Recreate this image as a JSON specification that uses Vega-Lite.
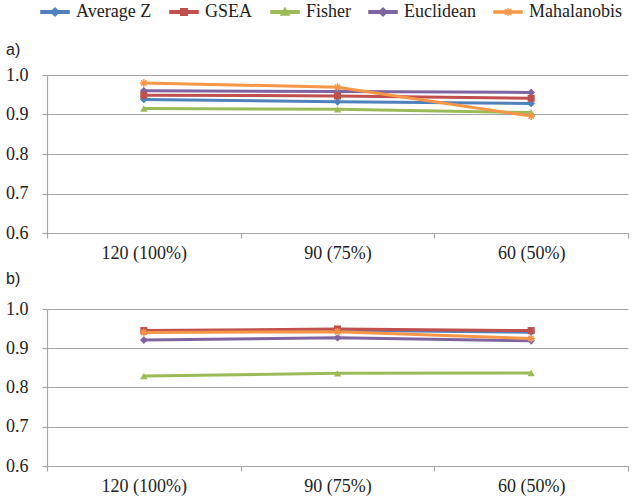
{
  "$schema": "https://vega.github.io/schema/vega-lite/v6.json",
  "padding": {"left": 5, "top": 3, "right": 4, "bottom": 4},
  "background": "white",
  "datasets": {
    "a": [
      {"n": "120 (100%)", "method": "Average Z", "value": 0.938},
      {"n": "90 (75%)", "method": "Average Z", "value": 0.932},
      {"n": "60 (50%)", "method": "Average Z", "value": 0.928},
      {"n": "120 (100%)", "method": "GSEA", "value": 0.949},
      {"n": "90 (75%)", "method": "GSEA", "value": 0.947},
      {"n": "60 (50%)", "method": "GSEA", "value": 0.941},
      {"n": "120 (100%)", "method": "Fisher", "value": 0.915},
      {"n": "90 (75%)", "method": "Fisher", "value": 0.913},
      {"n": "60 (50%)", "method": "Fisher", "value": 0.905},
      {"n": "120 (100%)", "method": "Euclidean", "value": 0.960},
      {"n": "90 (75%)", "method": "Euclidean", "value": 0.958},
      {"n": "60 (50%)", "method": "Euclidean", "value": 0.956},
      {"n": "120 (100%)", "method": "Mahalanobis", "value": 0.980},
      {"n": "90 (75%)", "method": "Mahalanobis", "value": 0.969},
      {"n": "60 (50%)", "method": "Mahalanobis", "value": 0.896}
    ],
    "b": [
      {"n": "120 (100%)", "method": "Average Z", "value": 0.942},
      {"n": "90 (75%)", "method": "Average Z", "value": 0.946},
      {"n": "60 (50%)", "method": "Average Z", "value": 0.941},
      {"n": "120 (100%)", "method": "GSEA", "value": 0.945},
      {"n": "90 (75%)", "method": "GSEA", "value": 0.949},
      {"n": "60 (50%)", "method": "GSEA", "value": 0.945},
      {"n": "120 (100%)", "method": "Fisher", "value": 0.829},
      {"n": "90 (75%)", "method": "Fisher", "value": 0.836},
      {"n": "60 (50%)", "method": "Fisher", "value": 0.837},
      {"n": "120 (100%)", "method": "Euclidean", "value": 0.921},
      {"n": "90 (75%)", "method": "Euclidean", "value": 0.927},
      {"n": "60 (50%)", "method": "Euclidean", "value": 0.919},
      {"n": "120 (100%)", "method": "Mahalanobis", "value": 0.940},
      {"n": "90 (75%)", "method": "Mahalanobis", "value": 0.942},
      {"n": "60 (50%)", "method": "Mahalanobis", "value": 0.925}
    ]
  },
  "config": {
    "view": {"stroke": null},
    "font": "Liberation Serif",
    "axis": {
      "labelFont": "Liberation Serif",
      "labelFontSize": 18,
      "labelColor": "#222222",
      "domainColor": "#a6a6a6",
      "tickColor": "#a6a6a6",
      "gridColor": "#a6a6a6",
      "domainWidth": 1.2,
      "tickWidth": 1.2,
      "gridWidth": 1.2,
      "tickSize": 5,
      "title": null
    },
    "legend": {
      "labelFont": "Liberation Serif",
      "labelFontSize": 18,
      "labelColor": "#222222"
    },
    "title": {"font": "Liberation Sans", "fontSize": 16, "fontWeight": "normal", "color": "#222222", "anchor": "start", "frame": "group"}
  },
  "spacing": 9,
  "vconcat": [
    {
      "width": 581,
      "height": 158,
      "title": {"text": "a)", "dx": -41, "offset": 8},
      "data": {"name": "a"},
      "encoding": {
        "x": {"field": "n", "type": "nominal", "sort": ["120 (100%)", "90 (75%)", "60 (50%)"],
              "scale": {"type": "band", "paddingInner": 0, "paddingOuter": 0},
              "axis": {"labelAngle": 0, "tickBand": "extent", "labelPadding": 6, "grid": false}},
        "y": {"field": "value", "type": "quantitative",
              "scale": {"domain": [0.6, 1.0], "nice": false, "zero": false},
              "axis": {"values": [0.6, 0.7, 0.8, 0.9, 1.0], "format": ".1f", "labelPadding": 14, "grid": true}}
      },
      "layer": [
        {
          "mark": {"type": "line", "strokeWidth": 3},
          "encoding": {
            "color": {"field": "method", "type": "nominal", "title": null,
                      "scale": {"domain": ["Average Z", "GSEA", "Fisher", "Euclidean", "Mahalanobis"],
                                "range": ["#4f81bd", "#c0504d", "#9bbb59", "#8064a2", "#f79646"]},
                      "legend": {"orient": "none", "legendX": -1, "legendY": -72, "direction": "horizontal", "columns": 5,
                                 "symbolSize": 100, "labelOffset": 12, "columnPadding": 15,
                                 "encode": {"symbols": {"update": {
                                   "fill": {"scale": "color", "field": "value"},
                                   "stroke": {"scale": "color", "field": "value"},
                                   "strokeWidth": {"value": 1.5},
                                   "opacity": {"value": 1},
                                   "fillOpacity": {"value": 1},
                                   "shape": {"signal": "datum.value === 'Average Z' || datum.value === 'Euclidean' ? 'M-2.8,-0.25H2.8V0.25H-2.8Z M0,-0.8L0.8,0L0,0.8L-0.8,0Z' : datum.value === 'GSEA' ? 'M-2.8,-0.25H2.8V0.25H-2.8Z M-0.65,-0.65H0.65V0.65H-0.65Z' : datum.value === 'Fisher' ? 'M-2.8,-0.25H2.8V0.25H-2.8Z M0,-0.8L0.8,0.6L-0.8,0.6Z' : 'M-2.8,-0.2H2.8V0.2H-2.8Z M-0.8,0H0.8M0,-0.8V0.8M-0.6,-0.6L0.6,0.6M-0.6,0.6L0.6,-0.6'"}
                                 }}}}}
          }
        },
        {
          "transform": [{"filter": "datum.method === 'Average Z' || datum.method === 'Euclidean'"}],
          "mark": {"type": "point", "filled": true, "shape": "diamond", "size": 60, "opacity": 1},
          "encoding": {
            "fill": {"field": "method", "type": "nominal", "legend": null,
                     "scale": {"domain": ["Average Z", "GSEA", "Fisher", "Euclidean", "Mahalanobis"],
                               "range": ["#4f81bd", "#c0504d", "#9bbb59", "#8064a2", "#f79646"]}}
          }
        },
        {
          "transform": [{"filter": "datum.method === 'GSEA'"}],
          "mark": {"type": "point", "filled": true, "shape": "square", "size": 50, "opacity": 1},
          "encoding": {
            "fill": {"field": "method", "type": "nominal", "legend": null}
          }
        },
        {
          "transform": [{"filter": "datum.method === 'Fisher'"}],
          "mark": {"type": "point", "filled": true, "shape": "triangle-up", "size": 55, "opacity": 1},
          "encoding": {
            "fill": {"field": "method", "type": "nominal", "legend": null}
          }
        },
        {
          "transform": [{"filter": "datum.method === 'Mahalanobis'"}],
          "mark": {"type": "point", "filled": false, "shape": "M-1,0L1,0M0,-1L0,1M-0.7,-0.7L0.7,0.7M-0.7,0.7L0.7,-0.7", "size": 60, "opacity": 1, "strokeWidth": 1.5},
          "encoding": {
            "stroke": {"field": "method", "type": "nominal", "legend": null,
                       "scale": {"domain": ["Average Z", "GSEA", "Fisher", "Euclidean", "Mahalanobis"],
                                 "range": ["#4f81bd", "#c0504d", "#9bbb59", "#8064a2", "#f79646"]}}
          }
        }
      ]
    },
    {
      "width": 581,
      "height": 157,
      "title": {"text": "b)", "dx": -41, "offset": 13},
      "data": {"name": "b"},
      "encoding": {
        "x": {"field": "n", "type": "nominal", "sort": ["120 (100%)", "90 (75%)", "60 (50%)"],
              "scale": {"type": "band", "paddingInner": 0, "paddingOuter": 0},
              "axis": {"labelAngle": 0, "tickBand": "extent", "labelPadding": 6, "grid": false}},
        "y": {"field": "value", "type": "quantitative",
              "scale": {"domain": [0.6, 1.0], "nice": false, "zero": false},
              "axis": {"values": [0.6, 0.7, 0.8, 0.9, 1.0], "format": ".1f", "labelPadding": 14, "grid": true}}
      },
      "layer": [
        {
          "mark": {"type": "line", "strokeWidth": 3},
          "encoding": {
            "color": {"field": "method", "type": "nominal"}
          }
        },
        {
          "transform": [{"filter": "datum.method === 'Average Z' || datum.method === 'Euclidean'"}],
          "mark": {"type": "point", "filled": true, "shape": "diamond", "size": 60, "opacity": 1},
          "encoding": {
            "fill": {"field": "method", "type": "nominal", "legend": null}
          }
        },
        {
          "transform": [{"filter": "datum.method === 'GSEA'"}],
          "mark": {"type": "point", "filled": true, "shape": "square", "size": 50, "opacity": 1},
          "encoding": {
            "fill": {"field": "method", "type": "nominal", "legend": null}
          }
        },
        {
          "transform": [{"filter": "datum.method === 'Fisher'"}],
          "mark": {"type": "point", "filled": true, "shape": "triangle-up", "size": 55, "opacity": 1},
          "encoding": {
            "fill": {"field": "method", "type": "nominal", "legend": null}
          }
        },
        {
          "transform": [{"filter": "datum.method === 'Mahalanobis'"}],
          "mark": {"type": "point", "filled": false, "shape": "M-1,0L1,0M0,-1L0,1M-0.7,-0.7L0.7,0.7M-0.7,0.7L0.7,-0.7", "size": 60, "opacity": 1, "strokeWidth": 1.5},
          "encoding": {
            "stroke": {"field": "method", "type": "nominal", "legend": null}
          }
        }
      ]
    }
  ],
  "resolve": {"scale": {"x": "independent", "y": "independent"}}
}
